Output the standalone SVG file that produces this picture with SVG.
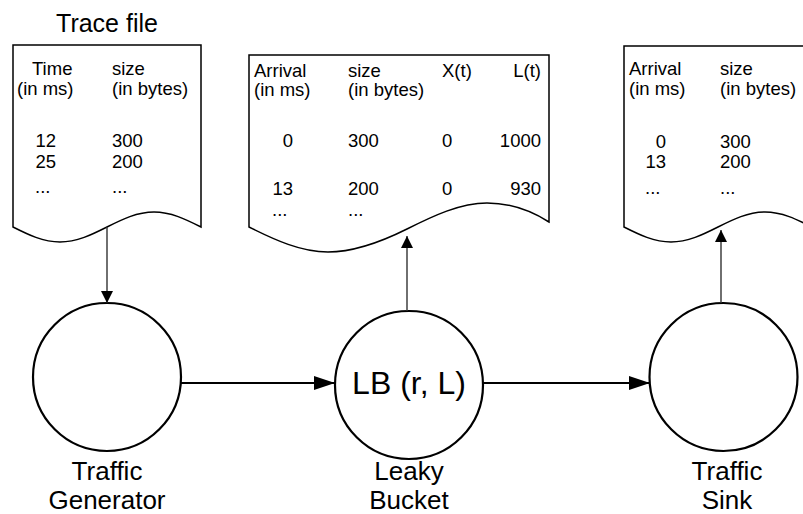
<svg xmlns="http://www.w3.org/2000/svg" width="803" height="514" viewBox="0 0 803 514">
  <style>
    .doc { fill: #ffffff; stroke: #000000; stroke-width: 1.5; }
    .node { fill: #ffffff; stroke: #000000; stroke-width: 2.2; }
    .t { font-family: "Liberation Sans", Arial, sans-serif; font-size: 18.5px; fill: #000000; }
    .title { font-family: "Liberation Sans", Arial, sans-serif; font-size: 25px; fill: #000000; text-anchor: middle; }
    .lbl { font-family: "Liberation Sans", Arial, sans-serif; font-size: 26px; fill: #000000; text-anchor: middle; }
    .inner { font-family: "Liberation Sans", Arial, sans-serif; font-size: 32px; fill: #000000; text-anchor: middle; }
    .e { text-anchor: end; }
    .flow { stroke: #000000; stroke-width: 2; fill: none; }
    .feed { stroke: #333333; stroke-width: 1.4; fill: none; }
  </style>
  <defs>
    <marker id="bigHead" markerUnits="userSpaceOnUse" markerWidth="21" markerHeight="14" refX="21" refY="7" orient="auto">
      <path d="M0,0 L21,7 L0,14 Z" fill="#000000"/>
    </marker>
    <marker id="smallHead" markerUnits="userSpaceOnUse" markerWidth="12" markerHeight="12" refX="12" refY="6" orient="auto">
      <path d="M0,0 L12,6 L0,12 Z" fill="#000000"/>
    </marker>
  </defs>

  <rect x="0" y="0" width="803" height="514" fill="#ffffff"/>

  <!-- trace file document -->
  <g id="trace-file">
    <text class="title" x="107" y="32">Trace file</text>
    <path class="doc" d="M13,45 L201,45 L201,227 C185.7,219.3 171,212 154,212 C137,212 122.3,219.3 107,227 C91.7,234.7 77,242 60,242 C43,242 28.3,234.7 13,227 Z"/>
    <text class="t" x="32" y="75">Time</text>
    <text class="t" x="17" y="95">(in ms)</text>
    <text class="t" x="112" y="75">size</text>
    <text class="t" x="112" y="95">(in bytes)</text>
    <text class="t e" x="56" y="147">12</text>
    <text class="t" x="112" y="147">300</text>
    <text class="t e" x="56" y="168">25</text>
    <text class="t" x="112" y="168">200</text>
    <text class="t" x="35" y="193">...</text>
    <text class="t" x="112" y="193">...</text>
  </g>

  <!-- leaky bucket log document -->
  <g id="bucket-log">
    <path class="doc" d="M249,55 L549,55 L549,222 C530,210 510,203 487,203 C460,203 433,216 407,229 C381,242 355,252 328,252 C301,252 275,240 249,227 Z"/>
    <text class="t" x="254" y="77">Arrival</text>
    <text class="t" x="254" y="96">(in ms)</text>
    <text class="t" x="348" y="77">size</text>
    <text class="t" x="348" y="96">(in bytes)</text>
    <text class="t" x="442" y="77">X(t)</text>
    <text class="t e" x="541" y="77">L(t)</text>
    <text class="t e" x="293" y="147">0</text>
    <text class="t" x="348" y="147">300</text>
    <text class="t" x="442" y="147">0</text>
    <text class="t e" x="541" y="147">1000</text>
    <text class="t e" x="293" y="195">13</text>
    <text class="t" x="348" y="195">200</text>
    <text class="t" x="442" y="195">0</text>
    <text class="t e" x="541" y="195">930</text>
    <text class="t" x="272" y="216">...</text>
    <text class="t" x="348" y="216">...</text>
  </g>

  <!-- sink log document -->
  <g id="sink-log">
    <path class="doc" d="M624,46 L812,46 L812,227 C796.7,219.3 782,212 765,212 C748,212 733.3,219.3 718,227 C702.7,234.7 688,242 671,242 C654,242 639.3,234.7 624,227 Z"/>
    <text class="t" x="629" y="75">Arrival</text>
    <text class="t" x="629" y="95">(in ms)</text>
    <text class="t" x="720" y="75">size</text>
    <text class="t" x="720" y="95">(in bytes)</text>
    <text class="t e" x="666" y="148">0</text>
    <text class="t" x="720" y="148">300</text>
    <text class="t e" x="666" y="168">13</text>
    <text class="t" x="720" y="168">200</text>
    <text class="t" x="645" y="194">...</text>
    <text class="t" x="720" y="194">...</text>
  </g>

  <!-- processing nodes -->
  <g id="traffic-generator">
    <circle class="node" cx="107" cy="377" r="74"/>
    <text class="lbl" x="107" y="480">Traffic</text>
    <text class="lbl" x="107" y="509">Generator</text>
  </g>
  <g id="leaky-bucket">
    <circle class="node" cx="409" cy="385" r="74"/>
    <text class="inner" x="409" y="394">LB (r, L)</text>
    <text class="lbl" x="409" y="480">Leaky</text>
    <text class="lbl" x="409" y="509">Bucket</text>
  </g>
  <g id="traffic-sink">
    <circle class="node" cx="723.5" cy="377" r="74"/>
    <text class="lbl" x="727" y="480">Traffic</text>
    <text class="lbl" x="727" y="509">Sink</text>
  </g>

  <!-- connectors -->
  <g id="connectors">
    <line class="feed" x1="107" y1="227" x2="107" y2="303" marker-end="url(#smallHead)"/>
    <line class="flow" x1="181" y1="383" x2="335" y2="383" marker-end="url(#bigHead)"/>
    <line class="flow" x1="483" y1="383" x2="650" y2="383" marker-end="url(#bigHead)"/>
    <line class="feed" x1="407" y1="311" x2="407" y2="236" marker-end="url(#smallHead)"/>
    <line class="feed" x1="721" y1="303" x2="721" y2="230" marker-end="url(#smallHead)"/>
  </g>
</svg>
